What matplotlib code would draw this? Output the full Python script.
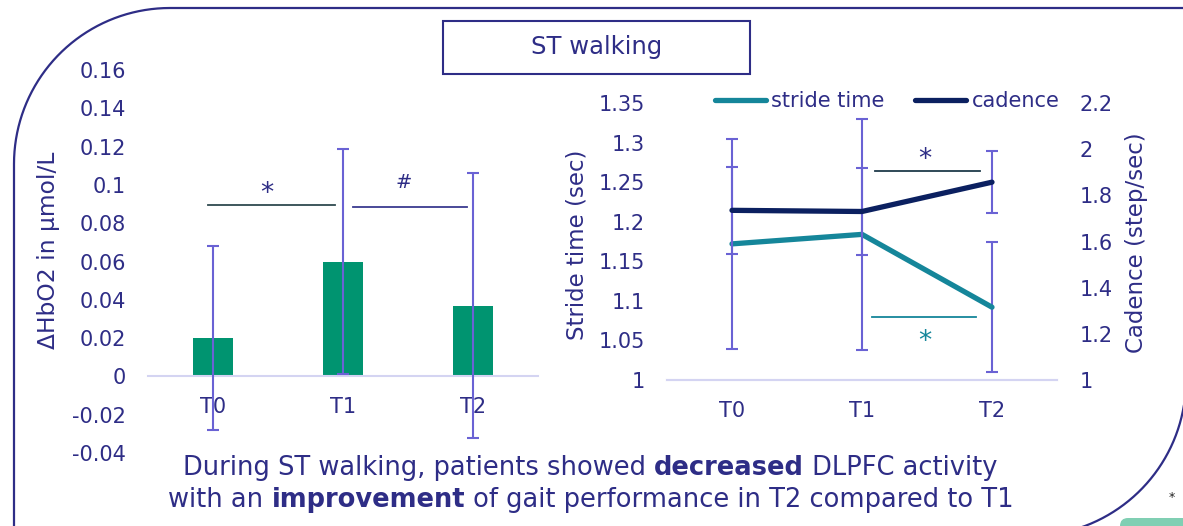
import numpy as np
import matplotlib
matplotlib.use('Agg')
import matplotlib.pyplot as plt
from matplotlib.path import Path
from matplotlib.patches import PathPatch, Rectangle, FancyBboxPatch
from matplotlib.transforms import IdentityTransform
from matplotlib.lines import Line2D

plt.rcParams['font.family'] = ['DejaVu Sans']
plt.rcParams['axes.unicode_minus'] = False

# data
times = ['T0', 'T1', 'T2']
hbo2 = [0.020, 0.060, 0.037]
hbo2_err = [0.048, 0.059, 0.069]
stride = [1.172, 1.184, 1.092]
stride_err = [0.133, 0.146, 0.082]
cadence = [1.735, 1.730, 1.857]
cadence_err = [0.189, 0.187, 0.135]

hbo2_ticks = [-0.04, -0.02, 0, 0.02, 0.04, 0.06, 0.08, 0.1, 0.12, 0.14, 0.16]
hbo2_labels = ['-0.04', '-0.02', '0', '0.02', '0.04', '0.06', '0.08', '0.1', '0.12', '0.14', '0.16']
stride_ticks = [1, 1.05, 1.1, 1.15, 1.2, 1.25, 1.3, 1.35]
stride_labels = ['1', '1.05', '1.1', '1.15', '1.2', '1.25', '1.3', '1.35']
cad_ticks = [1, 1.2, 1.4, 1.6, 1.8, 2, 2.2]
cad_labels = ['1', '1.2', '1.4', '1.6', '1.8', '2', '2.2']

navy = '#2e2d86'
errc = '#6a62d4'
axline = '#d4d4f2'
green = '#009470'
teal = '#15869a'
dark = '#0b2060'

W, H = 1183, 526
fig = plt.figure(figsize=(W / 100, H / 100), dpi=100)
x = np.arange(len(times))

# left chart: delta HbO2 bars
ax1 = fig.add_axes([148 / W, (H - 453) / H, 390 / W, 383 / H])
ax1.bar(x, hbo2, width=0.315, color=green, zorder=2)
ax1.errorbar(x, hbo2, yerr=hbo2_err, fmt='none', ecolor=errc, elinewidth=1.5,
             capsize=4, capthick=1.5, zorder=3)
ax1.set_xlim(-0.5, 2.5)
ax1.set_ylim(-0.04, 0.16)
ax1.set_yticks(hbo2_ticks)
ax1.set_yticklabels(hbo2_labels)
ax1.set_xticks(x)
ax1.set_xticklabels(times)
for s in ['top', 'right', 'left']:
    ax1.spines[s].set_visible(False)
ax1.spines['bottom'].set_position(('data', 0))
ax1.spines['bottom'].set_color(axline)
ax1.spines['bottom'].set_linewidth(1.5)
ax1.tick_params(axis='y', length=0, labelsize=15, labelcolor=navy, pad=16)
ax1.tick_params(axis='x', length=0, labelsize=15, labelcolor=navy, pad=15)
ax1.set_ylabel('ΔHbO2 in μmol/L', fontsize=16.8, color=navy, va='center')
ax1.yaxis.set_label_coords(-0.256, 0.53)
ax1.patch.set_visible(False)

# significance marks
ax1.plot([-0.04, 0.94], [0.0895, 0.0895], color='#2f4a4f', lw=1.3)
ax1.plot([1.08, 1.95], [0.0885, 0.0885], color='#3a3a90', lw=1.3)
ax1.text(0.415, 0.0955, '*', fontsize=19, color=navy, ha='center', va='center')
ax1.text(1.47, 0.101, '#', fontsize=14, color=navy, ha='center', va='center')

# right chart: stride time and cadence
ax2 = fig.add_axes([667 / W, (H - 380) / H, 390 / W, 277 / H])
ax3 = ax2.twinx()
ax2.errorbar(x, stride, yerr=stride_err, fmt='none', ecolor=errc, elinewidth=1.5,
             capsize=4, capthick=1.5, zorder=1)
ax2.plot(x, stride, color=teal, lw=3.8, solid_capstyle='round', zorder=3)
ax3.errorbar(x, cadence, yerr=cadence_err, fmt='none', ecolor=errc, elinewidth=1.5,
             capsize=4, capthick=1.5, zorder=1)
ax3.plot(x, cadence, color=dark, lw=3.8, solid_capstyle='round', zorder=3)

ax2.set_xlim(-0.5, 2.5)
ax2.set_ylim(1, 1.35)
ax3.set_ylim(1, 2.2)
ax2.set_yticks(stride_ticks)
ax2.set_yticklabels(stride_labels)
ax3.set_yticks(cad_ticks)
ax3.set_yticklabels(cad_labels)
ax2.set_xticks(x)
ax2.set_xticklabels(times)
for a in (ax2, ax3):
    for s in ['top', 'right', 'left']:
        a.spines[s].set_visible(False)
    a.spines['bottom'].set_color(axline)
    a.spines['bottom'].set_linewidth(1.5)
    a.tick_params(axis='y', length=0, labelsize=15, labelcolor=navy, pad=16)
    a.tick_params(axis='x', length=0, labelsize=15, labelcolor=navy, pad=15)
ax2.set_ylabel('Stride time (sec)', fontsize=16.5, color=navy, va='center')
ax2.yaxis.set_label_coords(-0.231, 0.487)
ax3.set_ylabel('Cadence (step/sec)', fontsize=16.5, color=navy, va='center', rotation=90)
ax3.yaxis.set_label_coords(1.205, 0.496)

ax3.plot([1.1, 1.91], [1.904, 1.904], color='#1f3a4a', lw=1.3)
ax3.text(1.485, 1.955, '*', fontsize=19, color=navy, ha='center', va='center')
ax2.plot([1.077, 1.877], [1.0796, 1.0796], color=teal, lw=1.3)
ax2.text(1.485, 1.048, '*', fontsize=19, color=teal, ha='center', va='center')

handles = [Line2D([], [], color=teal, lw=3.8, solid_capstyle='round'),
           Line2D([], [], color=dark, lw=3.8, solid_capstyle='round')]
leg = fig.legend(handles, ['stride time', 'cadence'], loc='center',
                 bbox_to_anchor=(887 / W, (H - 101) / H), ncol=2, frameon=False,
                 fontsize=15, handlelength=2.45, handletextpad=0.25,
                 columnspacing=1.5, borderpad=0)
for t in leg.get_texts():
    t.set_color(navy)

# title box
px = IdentityTransform()
fig.add_artist(Rectangle((443, H - 74), 307, 53, transform=px, fill=False,
                         edgecolor=navy, lw=1.5))
fig.text(596.5 / W, (H - 47) / H, 'ST walking', fontsize=17.5, color=navy,
         ha='center', va='center')

# slide border with two rounded corners
r1 = 156
a1 = np.linspace(np.pi, np.pi / 2, 40)
tl = np.column_stack([170 + r1 * np.cos(a1), H - (164 - r1 * np.sin(a1))])
verts = np.vstack([[14, -20], tl, [W + 20, H - 8]])
fig.add_artist(PathPatch(Path(verts), transform=px, fill=False,
                         edgecolor=navy, lw=1.6))
a2 = np.linspace(0, np.pi / 2, 40)
br = np.column_stack([1030 + r1 * np.cos(a2), H - (380 + r1 * np.sin(a2))])
verts2 = np.vstack([[1186, H + 20], br])
fig.add_artist(PathPatch(Path(verts2), transform=px, fill=False,
                         edgecolor=navy, lw=1.6))
fig.add_artist(FancyBboxPatch((1120, -20), 100, 28, transform=px,
                              boxstyle='round,pad=0,rounding_size=8',
                              facecolor='#80cfb3', edgecolor='none'))
fig.text(1172 / W, (H - 497) / H, '*', fontsize=9, color='#222222',
         ha='center', va='center')

# bottom caption with bold words
renderer = fig.canvas.get_renderer()


def rich_line(cx, cy, parts, size):
    items = []
    total = 0
    for s, w in parts:
        t = fig.text(0, H - cy, s, fontsize=size, fontweight=w, color=navy,
                     ha='left', va='center', transform=px)
        wd = t.get_window_extent(renderer).width
        items.append((t, wd))
        total += wd
    x0 = cx - total / 2
    for t, wd in items:
        t.set_x(x0)
        x0 += wd


rich_line(590, 468, [('During ST walking, patients showed ', 'normal'),
                     ('decreased', 'bold'),
                     (' DLPFC activity', 'normal')], 18.5)
rich_line(591, 500, [('with an ', 'normal'),
                     ('improvement', 'bold'),
                     (' of gait performance in T2 compared to T1', 'normal')], 18.5)

fig.savefig('out.png', dpi=100)
